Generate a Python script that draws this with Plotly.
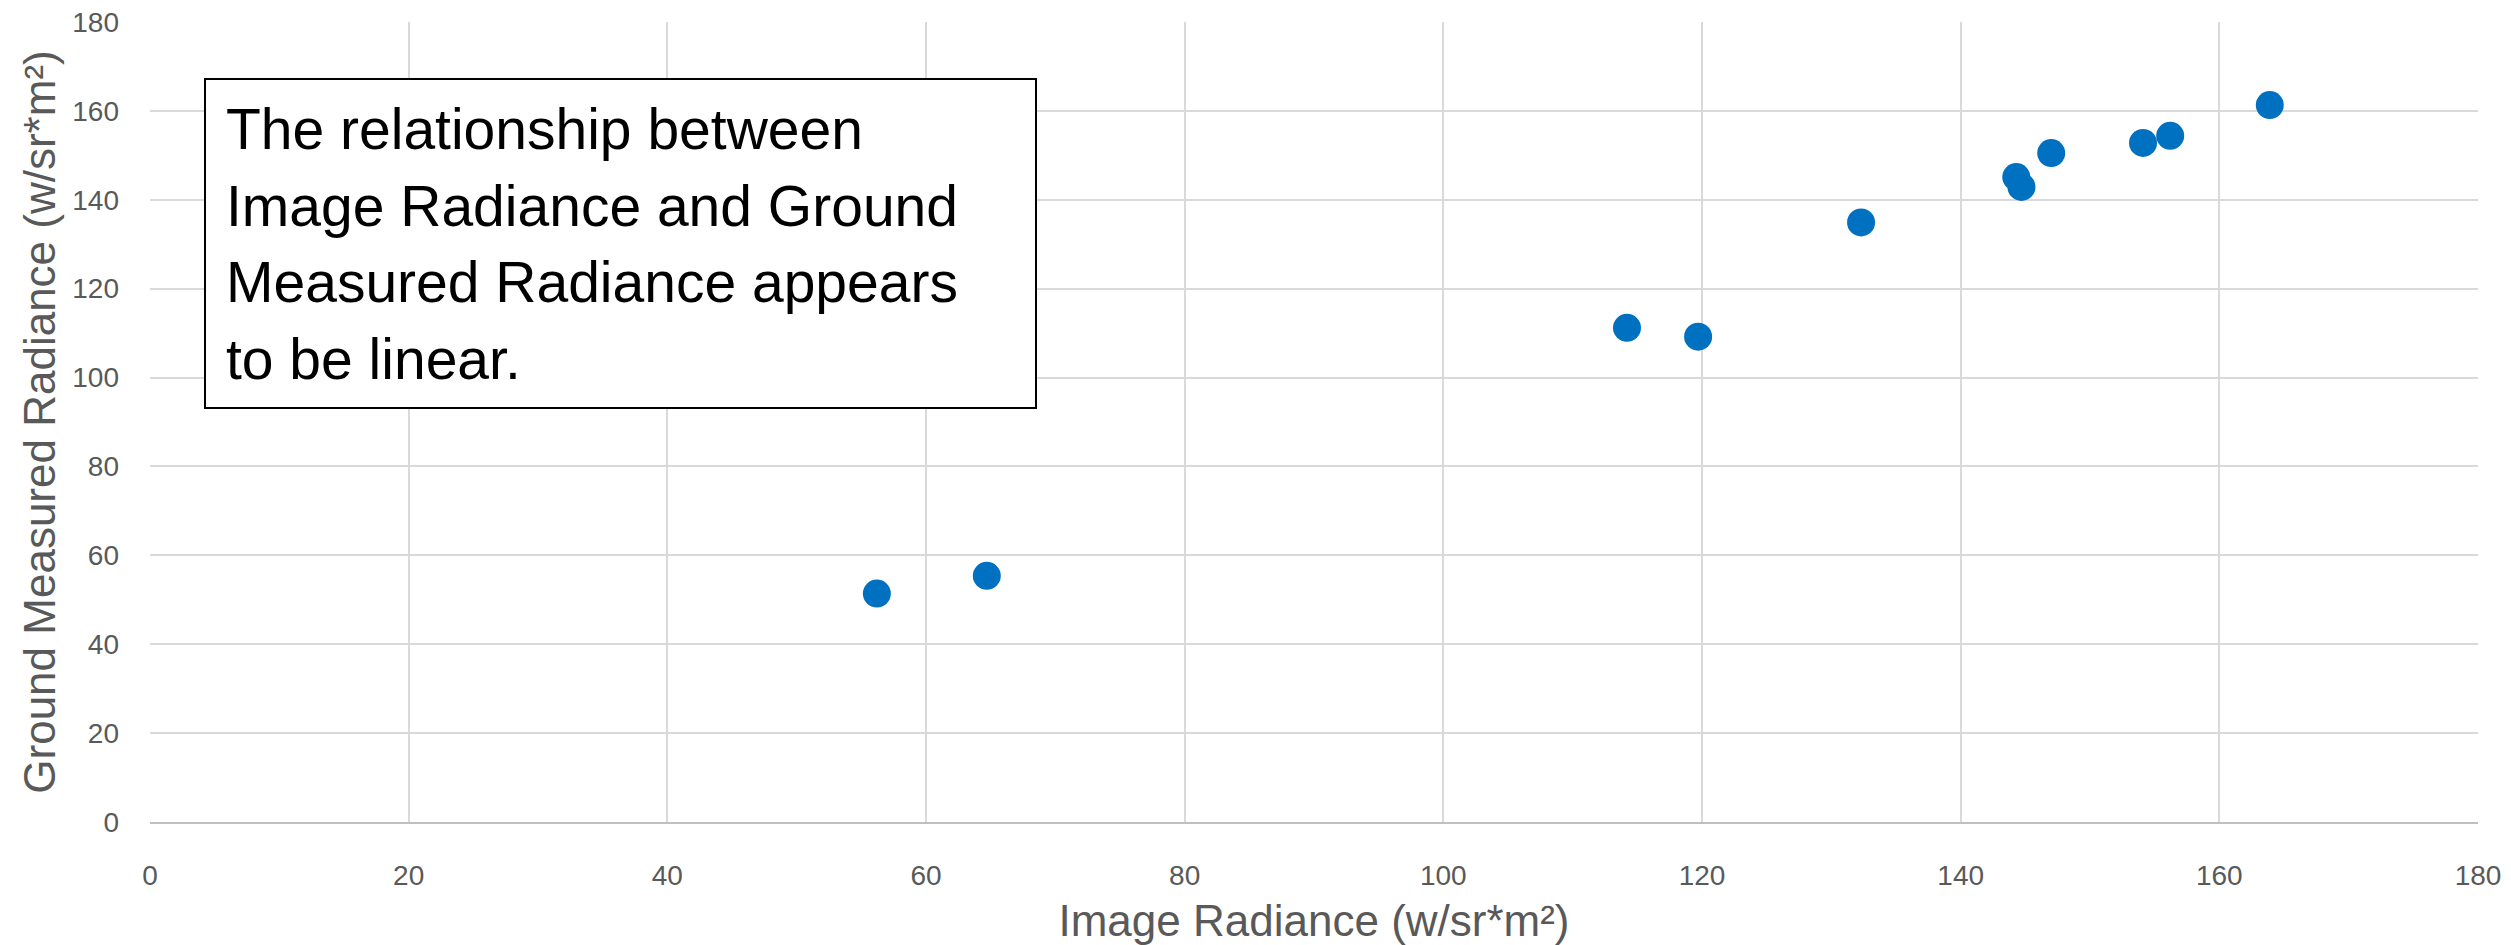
import plotly.graph_objects as go

# Data
image_radiance = [56.2, 64.7, 114.2, 119.7, 132.3, 144.3, 144.7, 147.0, 154.1, 156.2, 163.9]
ground_radiance = [51.4, 55.4, 111.2, 109.2, 134.9, 145.1, 142.9, 150.5, 152.8, 154.4, 161.3]

x_title = "Image Radiance (w/sr*m²)"
y_title = "Ground Measured Radiance (w/sr*m²)"
note_lines = [
    "The relationship between",
    "Image Radiance and Ground",
    "Measured Radiance appears",
    "to be linear.",
]

W, H = 2511, 945
ML, MR, MT, MB = 150, 33, 22, 123
PW, PH = W - ML - MR, H - MT - MB

def px_to_paper_x(px):
    return (px - ML) / PW

def px_to_paper_y(py):
    return (H - MB - py) / PH

fig = go.Figure()
fig.add_trace(go.Scatter(
    x=image_radiance, y=ground_radiance, mode="markers",
    marker=dict(size=28, color="#0070C0", line=dict(width=0)),
    showlegend=False,
))

grid = "#D9D9D9"
tick_font = dict(family="Liberation Sans, Arial, sans-serif", size=28, color="#595959")
title_font = dict(family="Liberation Sans, Arial, sans-serif", size=44, color="#595959")

fig.update_layout(
    width=W, height=H,
    margin=dict(l=ML, r=MR, t=MT, b=MB, autoexpand=False),
    paper_bgcolor="white", plot_bgcolor="white",
    xaxis=dict(
        range=[0, 180], dtick=20, tick0=0, showgrid=True, gridcolor=grid, gridwidth=2,
        zeroline=False, showline=True, linecolor="#BFBFBF", linewidth=2,
        ticks="", tickfont=tick_font, ticklabelstandoff=27, automargin=False,
        title=dict(text=x_title, font=title_font, standoff=22),
        fixedrange=True,
    ),
    yaxis=dict(
        range=[0, 180], dtick=20, tick0=0, showgrid=True, gridcolor=grid, gridwidth=2,
        zeroline=False, showline=False, automargin=False,
        ticks="", tickfont=tick_font, ticklabelstandoff=30,
        title=dict(text=y_title, font=title_font, standoff=2),
        fixedrange=True,
    ),
)

# text box
fig.add_shape(
    type="rect", xref="paper", yref="paper",
    x0=px_to_paper_x(205), x1=px_to_paper_x(1036),
    y0=px_to_paper_y(408), y1=px_to_paper_y(79),
    line=dict(color="black", width=2), fillcolor="white", layer="above",
)
centers = [129, 206, 282, 359]
for line, cy in zip(note_lines, centers):
    fig.add_annotation(
        xref="paper", yref="paper",
        x=px_to_paper_x(224), y=px_to_paper_y(cy),
        xanchor="left", yanchor="middle", showarrow=False, align="left",
        text=line,
        font=dict(family="Liberation Sans, Arial, sans-serif", size=57, color="black"),
    )

fig.write_html("out.html")
